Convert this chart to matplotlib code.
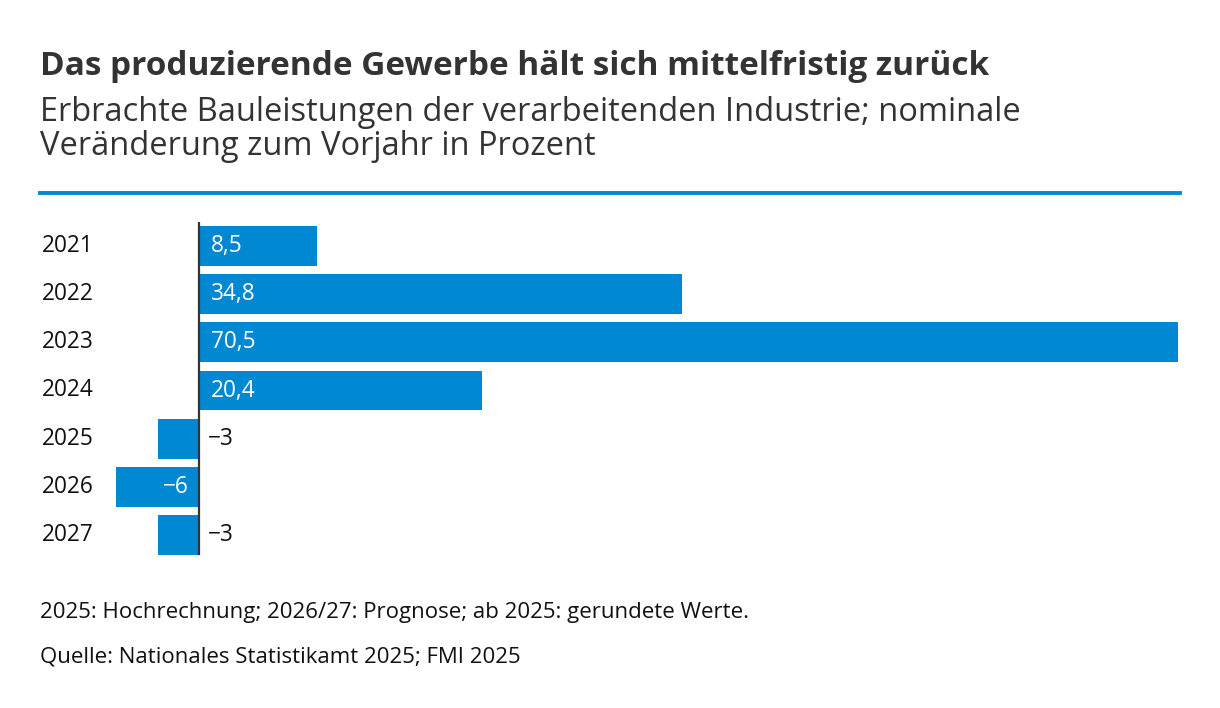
import matplotlib.pyplot as plt
import matplotlib.transforms as mtransforms
from matplotlib.lines import Line2D

plt.rcParams['font.family'] = ['Open Sans', 'DejaVu Sans']

years = ['2021', '2022', '2023', '2024', '2025', '2026', '2027']
values = [8.5, 34.8, 70.5, 20.4, -3, -6, -3]
labels = ['8,5', '34,8', '70,5', '20,4', '\u22123', '\u22126', '\u22123']

blue = '#0089d2'
dark = '#333333'

W, H = 1220, 708
fig = plt.figure(figsize=(W / 100, H / 100), dpi=100)

def px(x, y):
    return x / W, 1 - y / H

# titles
fig.text(*px(40, 75), 'Das produzierende Gewerbe hält sich mittelfristig zurück',
         fontsize=24, fontweight='bold', color=dark, va='baseline')
fig.text(*px(40, 121), 'Erbrachte Bauleistungen der verarbeitenden Industrie; nominale',
         fontsize=23.5, color=dark, va='baseline')
fig.text(*px(40, 155), 'Veränderung zum Vorjahr in Prozent',
         fontsize=23.5, color=dark, va='baseline')
fig.add_artist(Line2D([40 / W, 1180 / W], [1 - 193 / H] * 2, color=blue, lw=2.8,
                      transform=fig.transFigure))

# bars
left, right, top, bottom = 116, 1178, 222, 559
ax = fig.add_axes([left / W, 1 - bottom / H, (right - left) / W, (bottom - top) / H])
pos = list(range(len(years)))
ax.barh(pos, values, height=0.83, color=blue)
ax.set_xlim(min(values), max(values))
ax.set_ylim(len(years) - 0.5, -0.5)
ax.axvline(0, ymin=0.015, ymax=1.0, color=dark, lw=1.6)
ax.axis('off')

fs = 16.3
trans = mtransforms.blended_transform_factory(fig.transFigure, ax.transData)
for p, yr in zip(pos, years):
    ax.text(42 / W, p, yr, transform=trans, fontsize=fs, color='#111111',
            va='center', ha='left')

for p, v, lab in zip(pos, values, labels):
    if v > 0:
        ax.annotate(lab, (0, p), xytext=(8.5, 0), textcoords='offset points',
                    color='white', fontsize=fs, va='center', ha='left')
    elif v <= -5:
        ax.annotate(lab, (0, p), xytext=(-7.5, 0), textcoords='offset points',
                    color='white', fontsize=fs, va='center', ha='right')
    else:
        ax.annotate(lab, (0, p), xytext=(6.5, 0), textcoords='offset points',
                    color='#111111', fontsize=fs, va='center', ha='left')

# notes
fig.text(*px(40, 618), '2025: Hochrechnung; 2026/27: Prognose; ab 2025: gerundete Werte.',
         fontsize=16, color='#111111', va='baseline')
fig.text(*px(40, 662), 'Quelle: Nationales Statistikamt 2025; FMI 2025',
         fontsize=16, color='#111111', va='baseline')

fig.savefig('out.png', dpi=100)
